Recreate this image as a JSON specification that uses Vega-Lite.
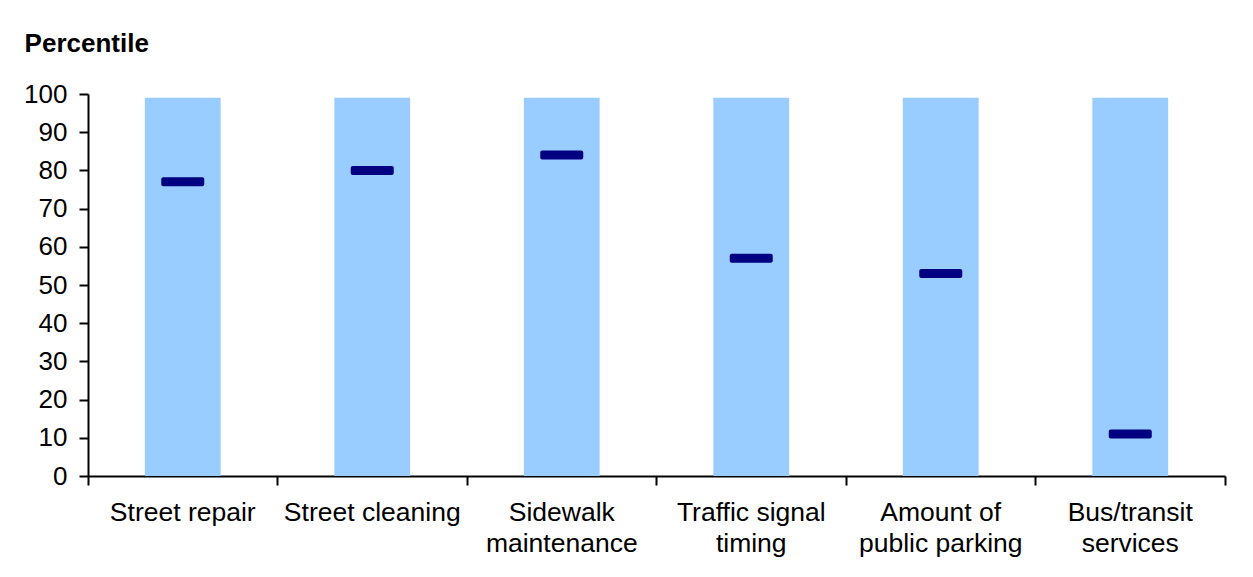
{
  "$schema": "https://vega.github.io/schema/vega-lite/v6.json",
  "autosize": "none",
  "width": 1137,
  "height": 382,
  "padding": {"left": 88, "top": 94, "right": 28, "bottom": 101},
  "background": "white",
  "title": {
    "text": "Percentile",
    "anchor": "start",
    "frame": "bounds",
    "font": "Liberation Sans",
    "fontSize": 26,
    "fontWeight": "bold",
    "color": "black",
    "dx": 1,
    "offset": 24
  },
  "data": {
    "values": [
      {"service": "Street repair", "percentile": 77, "range_max": 99},
      {"service": "Street cleaning", "percentile": 80, "range_max": 99},
      {"service": "Sidewalk maintenance", "percentile": 84, "range_max": 99},
      {"service": "Traffic signal timing", "percentile": 57, "range_max": 99},
      {"service": "Amount of public parking", "percentile": 53, "range_max": 99},
      {"service": "Bus/transit services", "percentile": 11, "range_max": 99}
    ]
  },
  "encoding": {
    "x": {
      "field": "service",
      "type": "nominal",
      "sort": null,
      "scale": {"paddingInner": 0, "paddingOuter": 0},
      "axis": {
        "title": null,
        "labelAngle": 0,
        "bandPosition": 1,
        "tickExtra": true,
        "labelExpr": "datum.value == 'Sidewalk maintenance' ? ['Sidewalk', 'maintenance'] : datum.value == 'Traffic signal timing' ? ['Traffic signal', 'timing'] : datum.value == 'Amount of public parking' ? ['Amount of', 'public parking'] : datum.value == 'Bus/transit services' ? ['Bus/transit', 'services'] : datum.value",
        "labelFontSize": 26.5,
        "labelLineHeight": 31,
        "labelPadding": 14,
        "labelOverlap": false,
        "tickSize": 9
      }
    }
  },
  "layer": [
    {
      "mark": {"type": "bar", "color": "#99CCFF", "width": {"band": 0.4}},
      "encoding": {
        "y": {
          "field": "range_max",
          "type": "quantitative",
          "scale": {"domain": [0, 100], "nice": false},
          "axis": {
            "title": null,
            "values": [0, 10, 20, 30, 40, 50, 60, 70, 80, 90, 100],
            "labelFontSize": 26,
            "labelPadding": 12,
            "labelOverlap": false,
            "labelFlush": false,
            "tickSize": 9,
            "grid": false
          }
        }
      }
    },
    {
      "mark": {"type": "tick", "color": "#000080", "thickness": 9, "size": 43, "orient": "horizontal", "cornerRadius": 2, "opacity": 1},
      "encoding": {
        "y": {
          "field": "percentile",
          "type": "quantitative",
          "axis": {
            "title": null,
            "values": [0, 10, 20, 30, 40, 50, 60, 70, 80, 90, 100],
            "labelFontSize": 26,
            "labelPadding": 12,
            "labelOverlap": false,
            "labelFlush": false,
            "tickSize": 9,
            "grid": false
          }
        }
      }
    }
  ],
  "config": {
    "view": {"stroke": null},
    "axis": {
      "labelFont": "Liberation Sans",
      "labelColor": "black",
      "domainColor": "black",
      "domainWidth": 2,
      "tickColor": "black",
      "tickWidth": 2,
      "grid": false
    }
  }
}
